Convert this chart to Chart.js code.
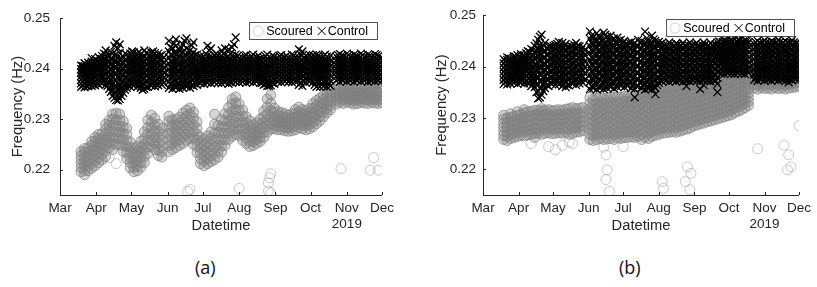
<!DOCTYPE html>
<html lang="en">
<head>
  <meta charset="UTF-8">
  <title>Scoured vs Control frequency</title>
  <script src="https://cdn.jsdelivr.net/npm/chart.js"></script>
  <style>
    body { margin: 0; background: #fff; width: 817px; height: 287px; position: relative; overflow: hidden; }
    .panel { position: absolute; top: 0; }
    .tag { position: absolute; top: 255px; font: 18px "Open Sans", "Noto Sans", sans-serif; color: #111; }
  </style>
</head>
<body>
  <div class="panel" style="left:0"><canvas id="chartA" width="400" height="240"></canvas></div>
  <div class="panel" style="left:410px"><canvas id="chartB" width="407" height="240"></canvas></div>
  <div class="tag" style="left:195px">(a)</div>
  <div class="tag" style="left:619px">(b)</div>

  <script>
    // x = days since 1 Mar 2019
    const monthDays = [0, 31, 61, 92, 122, 153, 184, 214, 245, 275];
    const monthLabels = ['Mar', 'Apr', 'May', 'Jun', 'Jul', 'Aug', 'Sep', 'Oct', ['Nov', '2019'], 'Dec'];
    const yTicks = [0.22, 0.23, 0.24, 0.25];

    // rows: [day, frequencies seen around that day...]
    const scouredA = [
      [18, .2196,.2204,.2212,.2220,.2228,.2236],
      [21, .2190,.2199,.2208,.2217,.2226,.2235,.2242],
      [24, .2198,.2207,.2216,.2225,.2234,.2243],
      [27, .2203,.2212,.2221,.2230,.2239,.2248,.2256],
      [30, .2208,.2218,.2228,.2237,.2246,.2256,.2264],
      [33, .2214,.2224,.2234,.2243,.2252,.2262,.2270],
      [36, .2220,.2231,.2241,.2251,.2261,.2271],
      [39, .2226,.2237,.2248,.2259,.2270,.2281,.2290],
      [42, .2244,.2255,.2266,.2277,.2288,.2298],
      [45, .2240,.2252,.2264,.2276,.2288,.2300,.2310],
      [48, .2250,.2262,.2274,.2286,.2298,.2312],
      [51, .2250,.2262,.2274,.2286,.2298,.2310],
      [54, .2236,.2248,.2260,.2272,.2284,.2296],
      [57, .2222,.2234,.2246,.2258,.2270,.2282],
      [60, .2204,.2214,.2224,.2234,.2244,.2255],
      [63, .2196,.2205,.2214,.2223,.2232,.2242],
      [66, .2198,.2207,.2216,.2226,.2236,.2246],
      [69, .2205,.2215,.2225,.2235,.2245,.2256],
      [72, .2214,.2226,.2238,.2250,.2262,.2275],
      [75, .2232,.2245,.2258,.2271,.2284,.2298],
      [78, .2246,.2258,.2270,.2282,.2294,.2308],
      [81, .2240,.2252,.2264,.2276,.2288,.2302],
      [84, .2228,.2240,.2252,.2264,.2276,.2290],
      [87, .2225,.2236,.2247,.2258,.2270,.2282],
      [93, .2236,.2248,.2260,.2272,.2284,.2296,.2306],
      [96, .2240,.2252,.2263,.2275,.2287,.2299],
      [99, .2244,.2256,.2267,.2278,.2289,.2300],
      [102, .2248,.2259,.2270,.2281,.2292,.2304],
      [105, .2252,.2264,.2276,.2288,.2300,.2312],
      [108, .2258,.2270,.2282,.2294,.2306,.2318],
      [111, .2262,.2274,.2286,.2298,.2310,.2322],
      [114, .2250,.2263,.2276,.2289,.2302,.2314],
      [117, .2234,.2246,.2258,.2270,.2282,.2295],
      [120, .2212,.2222,.2232,.2242,.2253,.2265],
      [123, .2208,.2218,.2228,.2238,.2249,.2260],
      [126, .2212,.2222,.2233,.2244,.2255,.2267],
      [129, .2216,.2227,.2238,.2250,.2262,.2275],
      [132, .2220,.2232,.2245,.2258,.2272,.2290,.2310],
      [135, .2225,.2237,.2249,.2261,.2274,.2288],
      [138, .2235,.2247,.2259,.2272,.2285,.2299],
      [141, .2248,.2260,.2272,.2284,.2297,.2311],
      [144, .2260,.2272,.2284,.2296,.2309,.2323],
      [147, .2266,.2278,.2290,.2302,.2315,.2330,.2340],
      [150, .2270,.2282,.2294,.2306,.2319,.2332,.2344],
      [153, .2268,.2280,.2292,.2304,.2317,.2330],
      [156, .2258,.2270,.2282,.2294,.2306,.2318],
      [159, .2252,.2262,.2272,.2282,.2293,.2305],
      [162, .2246,.2256,.2266,.2276,.2286,.2297],
      [165, .2248,.2256,.2264,.2272,.2280,.2289],
      [168, .2252,.2260,.2268,.2276,.2284,.2293],
      [171, .2256,.2264,.2272,.2281,.2290,.2300],
      [174, .2264,.2274,.2284,.2294,.2305,.2316],
      [177, .2274,.2286,.2298,.2310,.2324,.2340],
      [180, .2280,.2292,.2304,.2317,.2332,.2348],
      [183, .2281,.2289,.2297,.2305,.2313,.2322],
      [186, .2279,.2286,.2293,.2300,.2307,.2315],
      [189, .2279,.2286,.2293,.2299,.2306,.2313],
      [192, .2277,.2284,.2291,.2297,.2304,.2311],
      [195, .2276,.2283,.2289,.2295,.2301,.2308],
      [198, .2277,.2284,.2291,.2297,.2304,.2311],
      [201, .2279,.2287,.2295,.2303,.2311,.2319],
      [204, .2283,.2291,.2299,.2307,.2315,.2324],
      [207, .2281,.2289,.2296,.2303,.2311,.2319],
      [210, .2279,.2287,.2295,.2302,.2309,.2317],
      [213, .2281,.2289,.2297,.2305,.2313,.2321],
      [216, .2285,.2294,.2303,.2312,.2321,.2331],
      [219, .2291,.2300,.2309,.2318,.2327,.2337],
      [222, .2297,.2306,.2315,.2324,.2333,.2342],
      [225, .2305,.2314,.2323,.2331,.2339,.2347],
      [228, .2313,.2321,.2329,.2337,.2345,.2353],
      [231, .2319,.2327,.2335,.2342,.2349,.2357],
      [236, .2330,.2337,.2344,.2351,.2358,.2364],
      [239, .2333,.2340,.2347,.2354,.2361],
      [242, .2331,.2338,.2345,.2352,.2359,.2365],
      [245, .2334,.2341,.2348,.2355,.2362],
      [248, .2332,.2339,.2346,.2353,.2360,.2366],
      [251, .2330,.2337,.2344,.2351,.2358],
      [254, .2331,.2338,.2345,.2352,.2359,.2365],
      [257, .2333,.2340,.2347,.2354,.2361],
      [260, .2332,.2339,.2346,.2353,.2360,.2367],
      [263, .2331,.2338,.2345,.2352,.2359],
      [266, .2333,.2340,.2347,.2354,.2361,.2368],
      [269, .2332,.2339,.2346,.2353,.2360,.2370],
      [272, .2331,.2338,.2345,.2352,.2359,.2372],
      [275, .2333,.2340,.2347,.2354,.2362,.2378]
    ];
    const scouredAOutliers = [
      [42, .2224], [48, .2212],
      [109, .2157], [111, .2161], [153, .2163], [178, .2174], [180, .2192], [179, .2184],
      [178, .2158], [180, .2154], [240, .2202], [265, .2199], [268, .2224], [272, .2199]
    ];

    const controlA = [
      [18, .2364,.2371,.2378,.2385,.2392,.2399,.2406],
      [21, .2363,.2370,.2377,.2384,.2391,.2398,.2405,.2411],
      [24, .2365,.2372,.2380,.2388,.2396,.2404,.2412],
      [27, .2366,.2374,.2382,.2390,.2398,.2406,.2414,.2421],
      [30, .2367,.2375,.2384,.2393,.2402,.2411,.2419],
      [33, .2369,.2378,.2387,.2396,.2405,.2414,.2423],
      [36, .2371,.2380,.2389,.2398,.2407,.2416,.2425],
      [39, .2368,.2378,.2388,.2398,.2408,.2418,.2428,.2436],
      [42, .2360,.2371,.2382,.2393,.2404,.2415,.2426],
      [45, .2346,.2358,.2370,.2382,.2394,.2406,.2418,.2430],
      [48, .2338,.2351,.2364,.2377,.2390,.2403,.2416,.2429,.2452],
      [51, .2340,.2353,.2366,.2379,.2392,.2405,.2418,.2431,.2448],
      [54, .2352,.2364,.2376,.2388,.2400,.2412,.2424],
      [57, .2362,.2373,.2384,.2395,.2406,.2417,.2428],
      [60, .2364,.2375,.2386,.2397,.2408,.2419,.2430],
      [63, .2366,.2377,.2388,.2399,.2410,.2421,.2432],
      [66, .2364,.2375,.2386,.2397,.2408,.2419,.2430],
      [69, .2362,.2373,.2384,.2395,.2406,.2417,.2428],
      [72, .2360,.2371,.2382,.2393,.2404,.2415,.2426,.2436],
      [75, .2364,.2375,.2386,.2397,.2408,.2419,.2430],
      [78, .2366,.2377,.2388,.2399,.2410,.2421,.2432],
      [81, .2365,.2376,.2387,.2398,.2409,.2420,.2431],
      [84, .2367,.2378,.2389,.2400,.2411,.2422,.2430],
      [87, .2368,.2378,.2388,.2398,.2408,.2418,.2427],
      [93, .2362,.2374,.2386,.2398,.2410,.2422,.2434,.2455],
      [96, .2360,.2373,.2386,.2399,.2412,.2425,.2440],
      [99, .2362,.2375,.2388,.2401,.2414,.2428,.2445,.2458],
      [102, .2360,.2372,.2385,.2398,.2411,.2424,.2437],
      [105, .2362,.2374,.2386,.2398,.2410,.2422,.2434,.2448],
      [108, .2364,.2376,.2388,.2400,.2412,.2424,.2440,.2460],
      [111, .2362,.2374,.2386,.2398,.2410,.2422,.2436],
      [114, .2366,.2377,.2388,.2399,.2410,.2421,.2432,.2452],
      [117, .2368,.2378,.2388,.2398,.2408,.2418,.2428],
      [120, .2371,.2380,.2389,.2398,.2407,.2416,.2425],
      [123, .2370,.2379,.2388,.2397,.2406,.2415,.2424],
      [126, .2372,.2381,.2390,.2399,.2408,.2417,.2426,.2445],
      [129, .2371,.2380,.2389,.2398,.2407,.2416,.2425,.2440],
      [132, .2373,.2382,.2391,.2400,.2409,.2418,.2427],
      [135, .2372,.2381,.2390,.2399,.2408,.2417,.2426],
      [138, .2371,.2380,.2389,.2398,.2407,.2416,.2425,.2436],
      [141, .2373,.2382,.2391,.2400,.2409,.2418,.2427,.2440],
      [144, .2370,.2379,.2388,.2397,.2406,.2415,.2424,.2438],
      [147, .2372,.2381,.2390,.2399,.2408,.2417,.2426,.2442],
      [150, .2374,.2383,.2392,.2401,.2410,.2419,.2428,.2462],
      [153, .2373,.2381,.2389,.2397,.2405,.2413,.2421],
      [156, .2374,.2382,.2390,.2398,.2406,.2414,.2422],
      [159, .2372,.2380,.2388,.2396,.2404,.2412,.2420,.2427],
      [162, .2374,.2382,.2390,.2398,.2406,.2414,.2422],
      [165, .2373,.2381,.2389,.2397,.2405,.2413,.2421,.2428],
      [168, .2375,.2383,.2391,.2399,.2407,.2415,.2423],
      [171, .2372,.2380,.2388,.2396,.2404,.2412,.2420],
      [174, .2368,.2377,.2386,.2395,.2404,.2413,.2422],
      [177, .2366,.2375,.2384,.2393,.2402,.2411,.2420,.2428],
      [180, .2367,.2376,.2385,.2394,.2403,.2412,.2421],
      [183, .2370,.2379,.2388,.2397,.2406,.2415,.2424],
      [186, .2374,.2382,.2390,.2398,.2406,.2414,.2422],
      [189, .2373,.2381,.2389,.2397,.2405,.2413,.2421,.2427],
      [192, .2375,.2383,.2391,.2399,.2407,.2415,.2423],
      [195, .2374,.2382,.2390,.2398,.2406,.2414,.2422],
      [198, .2373,.2381,.2389,.2397,.2405,.2413,.2421,.2428],
      [201, .2375,.2383,.2391,.2399,.2407,.2415,.2423],
      [204, .2368,.2377,.2386,.2395,.2404,.2413,.2422,.2438],
      [207, .2366,.2376,.2386,.2396,.2406,.2416,.2426,.2434],
      [210, .2372,.2381,.2390,.2399,.2408,.2417,.2426],
      [213, .2374,.2383,.2392,.2401,.2410,.2419,.2428],
      [216, .2373,.2382,.2391,.2400,.2409,.2418,.2427],
      [219, .2364,.2375,.2384,.2393,.2402,.2411,.2420,.2428],
      [222, .2364,.2374,.2384,.2394,.2404,.2414,.2424],
      [225, .2365,.2375,.2385,.2395,.2405,.2415,.2425],
      [228, .2364,.2374,.2384,.2394,.2404,.2414,.2424],
      [231, .2366,.2376,.2386,.2396,.2406,.2416,.2426],
      [236, .2376,.2384,.2392,.2400,.2408,.2416,.2424],
      [239, .2374,.2382,.2390,.2398,.2406,.2414,.2422,.2429],
      [242, .2377,.2385,.2393,.2401,.2409,.2417,.2425],
      [245, .2375,.2383,.2391,.2399,.2407,.2415,.2423,.2430],
      [248, .2376,.2384,.2392,.2400,.2408,.2416,.2424],
      [251, .2374,.2382,.2390,.2398,.2406,.2414,.2422,.2428],
      [254, .2377,.2385,.2393,.2401,.2409,.2417,.2425],
      [257, .2375,.2383,.2391,.2399,.2407,.2415,.2423,.2430],
      [260, .2376,.2384,.2392,.2400,.2408,.2416,.2424],
      [263, .2374,.2382,.2390,.2398,.2406,.2414,.2422,.2428],
      [266, .2376,.2384,.2392,.2400,.2408,.2416,.2424],
      [269, .2375,.2383,.2391,.2399,.2407,.2415,.2423,.2429],
      [272, .2377,.2385,.2393,.2401,.2409,.2417,.2425],
      [275, .2376,.2384,.2392,.2400,.2408,.2416,.2422]
    ];
    // readings between the rows above
    const controlAMid = [
      [19.5, .2367,.2375,.2383,.2391,.2399,.2405],
      [22.5, .2366,.2374,.2382,.2390,.2398,.2407],
      [25.5, .2368,.2376,.2384,.2392,.2400,.2409],
      [28.5, .2369,.2378,.2387,.2395,.2403,.2412],
      [31.5, .2371,.2380,.2389,.2398,.2407,.2416],
      [34.5, .2373,.2383,.2392,.2401,.2410,.2419],
      [37.5, .2375,.2385,.2394,.2403,.2412,.2421,.2430],
      [40.5, .2366,.2374,.2384,.2394,.2404,.2414,.2424],
      [43.5, .2354,.2366,.2377,.2388,.2399,.2410,.2421,.2433],
      [46.5, .2342,.2354,.2366,.2378,.2390,.2402,.2414,.2426,.2445],
      [49.5, .2337,.2346,.2358,.2371,.2384,.2397,.2410,.2423,.2440],
      [52.5, .2346,.2359,.2372,.2384,.2396,.2408,.2420],
      [55.5, .2358,.2369,.2381,.2393,.2405,.2417,.2430],
      [58.5, .2368,.2379,.2390,.2401,.2412,.2423],
      [61.5, .2370,.2381,.2392,.2403,.2414,.2425,.2434],
      [64.5, .2370,.2381,.2392,.2403,.2414,.2425],
      [67.5, .2368,.2379,.2390,.2401,.2412,.2423,.2433],
      [70.5, .2358,.2366,.2378,.2389,.2400,.2411,.2422],
      [73.5, .2364,.2376,.2387,.2398,.2409,.2420,.2431],
      [76.5, .2370,.2381,.2392,.2403,.2414,.2425],
      [79.5, .2371,.2382,.2393,.2404,.2415,.2426,.2434],
      [82.5, .2370,.2381,.2392,.2403,.2414,.2425],
      [85.5, .2372,.2383,.2394,.2405,.2416,.2426],
      [88.5, .2372,.2382,.2392,.2402,.2412,.2422],
      [94.5, .2368,.2380,.2392,.2404,.2416,.2428,.2442],
      [97.5, .2366,.2379,.2392,.2405,.2418,.2432,.2450],
      [100.5, .2367,.2380,.2393,.2406,.2419,.2431],
      [103.5, .2366,.2378,.2391,.2404,.2417,.2430,.2442],
      [106.5, .2368,.2380,.2392,.2404,.2416,.2428,.2455],
      [109.5, .2369,.2381,.2393,.2405,.2417,.2430],
      [112.5, .2368,.2380,.2392,.2404,.2416,.2428,.2446],
      [115.5, .2372,.2383,.2394,.2405,.2416,.2427],
      [118.5, .2373,.2383,.2393,.2403,.2413,.2423],
      [121.5, .2376,.2385,.2394,.2403,.2412,.2421],
      [124.5, .2375,.2384,.2393,.2402,.2411,.2420,.2430],
      [127.5, .2377,.2386,.2395,.2404,.2413,.2422,.2436],
      [130.5, .2376,.2385,.2394,.2403,.2412,.2421],
      [133.5, .2377,.2386,.2395,.2404,.2413,.2422,.2430],
      [136.5, .2376,.2385,.2394,.2403,.2412,.2421],
      [139.5, .2375,.2384,.2393,.2402,.2411,.2420,.2430],
      [142.5, .2377,.2386,.2395,.2404,.2413,.2422],
      [145.5, .2374,.2383,.2392,.2401,.2410,.2419,.2430],
      [148.5, .2376,.2385,.2394,.2403,.2412,.2421,.2448],
      [151.5, .2377,.2385,.2393,.2401,.2409,.2417,.2425],
      [154.5, .2377,.2385,.2393,.2401,.2409,.2417],
      [157.5, .2378,.2386,.2394,.2402,.2410,.2418,.2426],
      [160.5, .2376,.2384,.2392,.2400,.2408,.2416],
      [163.5, .2378,.2386,.2394,.2402,.2410,.2418,.2425],
      [166.5, .2377,.2385,.2393,.2401,.2409,.2417],
      [169.5, .2379,.2387,.2395,.2403,.2411,.2419,.2426],
      [172.5, .2372,.2376,.2384,.2392,.2400,.2408,.2416],
      [175.5, .2370,.2381,.2390,.2399,.2408,.2417,.2425],
      [178.5, .2366,.2371,.2380,.2389,.2398,.2407,.2416],
      [181.5, .2372,.2381,.2390,.2399,.2408,.2417,.2426],
      [184.5, .2378,.2386,.2394,.2402,.2410,.2418],
      [187.5, .2377,.2385,.2393,.2401,.2409,.2417,.2425],
      [190.5, .2379,.2387,.2395,.2403,.2411,.2419],
      [193.5, .2378,.2386,.2394,.2402,.2410,.2418,.2426],
      [196.5, .2377,.2385,.2393,.2401,.2409,.2417],
      [199.5, .2379,.2387,.2395,.2403,.2411,.2419,.2426],
      [202.5, .2378,.2386,.2394,.2402,.2410,.2418],
      [205.5, .2372,.2381,.2390,.2399,.2408,.2417,.2428],
      [208.5, .2376,.2385,.2394,.2403,.2412,.2421],
      [211.5, .2377,.2386,.2395,.2404,.2413,.2422],
      [214.5, .2378,.2387,.2396,.2405,.2414,.2423],
      [217.5, .2368,.2380,.2389,.2398,.2407,.2416,.2425],
      [220.5, .2378,.2388,.2398,.2408,.2418,.2426],
      [223.5, .2369,.2379,.2389,.2399,.2409,.2419],
      [226.5, .2379,.2389,.2399,.2409,.2419,.2428],
      [229.5, .2370,.2380,.2390,.2400,.2410,.2420],
      [237.5, .2380,.2388,.2396,.2404,.2412,.2420,.2427],
      [240.5, .2378,.2386,.2394,.2402,.2410,.2418,.2426],
      [243.5, .2381,.2389,.2397,.2405,.2413,.2421],
      [246.5, .2379,.2387,.2395,.2403,.2411,.2419,.2427],
      [249.5, .2380,.2388,.2396,.2404,.2412,.2420],
      [252.5, .2378,.2386,.2394,.2402,.2410,.2418,.2426],
      [255.5, .2381,.2389,.2397,.2405,.2413,.2421],
      [258.5, .2379,.2387,.2395,.2403,.2411,.2419,.2427],
      [261.5, .2380,.2388,.2396,.2404,.2412,.2420],
      [264.5, .2378,.2386,.2394,.2402,.2410,.2418,.2426],
      [267.5, .2380,.2388,.2396,.2404,.2412,.2420],
      [270.5, .2379,.2387,.2395,.2403,.2411,.2419,.2427],
      [273.5, .2381,.2389,.2397,.2405,.2413,.2421]
    ];

    const scouredB = [
      [18, .2258,.2266,.2274,.2282,.2290,.2298,.2305],
      [21, .2256,.2264,.2273,.2282,.2291,.2300],
      [24, .2260,.2268,.2276,.2284,.2292,.2301,.2308],
      [27, .2262,.2270,.2278,.2286,.2294,.2303],
      [30, .2264,.2272,.2280,.2288,.2296,.2305,.2312],
      [33, .2266,.2274,.2282,.2290,.2298,.2307],
      [36, .2265,.2274,.2283,.2292,.2301,.2310,.2316],
      [39, .2267,.2276,.2285,.2294,.2303,.2312],
      [42, .2268,.2277,.2286,.2295,.2304,.2313],
      [45, .2262,.2270,.2279,.2288,.2297,.2306,.2315],
      [48, .2270,.2279,.2288,.2297,.2306,.2315],
      [51, .2268,.2277,.2286,.2295,.2304,.2313,.2318],
      [54, .2270,.2279,.2288,.2297,.2306,.2315],
      [57, .2271,.2280,.2289,.2298,.2307,.2316],
      [60, .2269,.2278,.2287,.2296,.2305,.2314],
      [63, .2270,.2279,.2288,.2297,.2306,.2315],
      [66, .2271,.2280,.2289,.2298,.2307,.2316],
      [69, .2270,.2279,.2288,.2297,.2306,.2315],
      [72, .2272,.2281,.2290,.2299,.2308,.2317],
      [75, .2268,.2278,.2288,.2298,.2308,.2318],
      [78, .2270,.2280,.2290,.2300,.2310,.2320],
      [81, .2272,.2281,.2290,.2299,.2308,.2318],
      [84, .2273,.2282,.2291,.2300,.2309,.2319],
      [87, .2275,.2284,.2293,.2302,.2311,.2320],
      [93, .2258,.2268,.2278,.2288,.2298,.2308,.2318,.2328,.2340],
      [96, .2256,.2266,.2276,.2286,.2296,.2306,.2316,.2326,.2336],
      [99, .2258,.2268,.2279,.2288,.2298,.2307,.2318,.2328,.2338],
      [102, .2260,.2270,.2280,.2291,.2300,.2310,.2321,.2330,.2342],
      [105, .2258,.2268,.2277,.2288,.2298,.2309,.2318,.2328,.2338],
      [108, .2259,.2269,.2279,.2289,.2299,.2309,.2319,.2329,.2339],
      [111, .2260,.2271,.2280,.2290,.2301,.2310,.2320,.2331,.2340],
      [114, .2258,.2268,.2278,.2287,.2298,.2308,.2317,.2328,.2340],
      [117, .2261,.2271,.2281,.2291,.2301,.2311,.2321,.2331,.2341],
      [120, .2260,.2270,.2280,.2290,.2300,.2310,.2320,.2330,.2340],
      [123, .2262,.2272,.2282,.2292,.2302,.2312,.2322,.2332,.2342],
      [126, .2262,.2273,.2282,.2291,.2302,.2313,.2322,.2332,.2342],
      [129, .2263,.2273,.2283,.2293,.2303,.2313,.2323,.2333,.2343],
      [132, .2262,.2272,.2281,.2292,.2302,.2311,.2322,.2332,.2342],
      [135, .2264,.2274,.2284,.2294,.2304,.2314,.2324,.2334,.2344],
      [138, .2258,.2268,.2278,.2288,.2298,.2308,.2318,.2328,.2338,.2347],
      [141, .2262,.2272,.2282,.2292,.2302,.2312,.2322,.2332,.2342,.2350],
      [144, .2260,.2270,.2281,.2290,.2300,.2311,.2320,.2330,.2340,.2350],
      [147, .2264,.2274,.2284,.2294,.2304,.2314,.2324,.2334,.2344,.2352],
      [150, .2266,.2276,.2286,.2296,.2306,.2316,.2326,.2336,.2346,.2355],
      [153, .2268,.2278,.2288,.2298,.2308,.2318,.2328,.2338,.2348,.2357],
      [156, .2270,.2280,.2290,.2300,.2311,.2320,.2330,.2340,.2350,.2359],
      [159, .2271,.2281,.2291,.2301,.2311,.2321,.2331,.2341,.2351,.2360],
      [162, .2272,.2282,.2292,.2302,.2312,.2322,.2332,.2342,.2352,.2361],
      [165, .2273,.2283,.2293,.2303,.2313,.2323,.2333,.2343,.2353,.2362],
      [168, .2272,.2282,.2292,.2302,.2312,.2322,.2332,.2342,.2352,.2362],
      [171, .2274,.2284,.2294,.2304,.2314,.2324,.2334,.2344,.2354,.2364],
      [174, .2276,.2286,.2296,.2306,.2316,.2326,.2336,.2346,.2356,.2365],
      [177, .2278,.2288,.2298,.2308,.2318,.2328,.2338,.2348,.2358,.2366],
      [180, .2280,.2290,.2300,.2310,.2320,.2330,.2340,.2350,.2360,.2368],
      [183, .2284,.2293,.2302,.2311,.2320,.2329,.2338,.2347,.2356,.2365,.2372],
      [186, .2286,.2295,.2304,.2313,.2322,.2331,.2340,.2349,.2358,.2367,.2374],
      [189, .2288,.2297,.2306,.2315,.2324,.2333,.2342,.2351,.2360,.2369,.2376],
      [192, .2290,.2299,.2308,.2317,.2326,.2335,.2344,.2353,.2362,.2371,.2377],
      [195, .2292,.2301,.2310,.2319,.2328,.2337,.2346,.2355,.2364,.2373,.2379],
      [198, .2294,.2303,.2312,.2321,.2330,.2339,.2348,.2357,.2366,.2375,.2381],
      [201, .2296,.2305,.2314,.2323,.2332,.2341,.2350,.2359,.2368,.2377,.2383],
      [204, .2298,.2307,.2316,.2325,.2334,.2343,.2352,.2361,.2370,.2379,.2385],
      [207, .2300,.2309,.2318,.2327,.2336,.2345,.2354,.2363,.2372,.2381,.2387],
      [210, .2302,.2311,.2320,.2329,.2338,.2347,.2356,.2365,.2374,.2383,.2389],
      [213, .2304,.2313,.2322,.2331,.2340,.2349,.2358,.2367,.2376,.2385,.2391],
      [216, .2306,.2315,.2324,.2333,.2342,.2351,.2360,.2369,.2378,.2387,.2393],
      [219, .2310,.2319,.2328,.2337,.2346,.2355,.2364,.2373,.2382,.2390],
      [222, .2313,.2322,.2331,.2340,.2349,.2358,.2367,.2376,.2385,.2393],
      [225, .2316,.2325,.2334,.2343,.2352,.2361,.2370,.2379,.2388,.2396],
      [228, .2320,.2328,.2336,.2344,.2352,.2360,.2368,.2376,.2384,.2392,.2398],
      [231, .2324,.2332,.2340,.2348,.2356,.2364,.2372,.2380,.2388,.2396],
      [236, .2358,.2365,.2372,.2379,.2386,.2393],
      [239, .2356,.2364,.2372,.2380,.2388,.2395],
      [242, .2359,.2366,.2373,.2380,.2387,.2394],
      [245, .2357,.2365,.2373,.2381,.2389,.2396],
      [248, .2358,.2366,.2374,.2382,.2390,.2397],
      [251, .2356,.2364,.2372,.2380,.2388,.2395],
      [254, .2359,.2367,.2375,.2383,.2391,.2398],
      [257, .2357,.2365,.2373,.2381,.2389,.2396],
      [260, .2358,.2366,.2374,.2382,.2390,.2398],
      [263, .2356,.2364,.2372,.2380,.2388,.2396],
      [266, .2358,.2366,.2374,.2382,.2390,.2399],
      [269, .2359,.2367,.2375,.2383,.2391,.2400],
      [272, .2360,.2368,.2376,.2384,.2392,.2402],
      [275, .2362,.2370,.2378,.2386,.2394,.2405]
    ];
    const scouredBOutliers = [
      [42, .2250], [57, .2244], [63, .2238], [69, .2247], [75, .2253], [78, .2250],
      [105, .2243], [107, .2228], [108, .2199], [107, .2180], [110, .2157], [122, .2244],
      [156, .2176], [157, .2163], [178, .2205], [181, .2192], [176, .2176], [180, .2160],
      [239, .2240], [262, .2247], [266, .2228], [265, .2199], [268, .2205], [275, .2285]
    ];

    const controlB = [
      [18, .2366,.2374,.2382,.2390,.2398,.2406,.2414],
      [21, .2365,.2373,.2381,.2389,.2397,.2405,.2413,.2418],
      [24, .2367,.2375,.2383,.2391,.2399,.2407,.2415],
      [27, .2368,.2376,.2384,.2392,.2400,.2408,.2416,.2420],
      [30, .2366,.2374,.2382,.2390,.2398,.2406,.2414,.2422],
      [33, .2369,.2377,.2385,.2393,.2401,.2409,.2417,.2424],
      [36, .2367,.2376,.2385,.2394,.2403,.2412,.2421],
      [39, .2368,.2377,.2386,.2395,.2404,.2413,.2422,.2430],
      [42, .2362,.2372,.2382,.2392,.2402,.2412,.2422,.2434],
      [45, .2360,.2371,.2382,.2393,.2404,.2415,.2426,.2440],
      [48, .2338,.2352,.2366,.2380,.2394,.2408,.2422,.2436,.2452],
      [51, .2345,.2358,.2371,.2384,.2397,.2410,.2423,.2436,.2462],
      [54, .2358,.2370,.2382,.2394,.2406,.2418,.2430,.2446],
      [57, .2362,.2374,.2386,.2398,.2410,.2422,.2434],
      [60, .2366,.2378,.2390,.2402,.2414,.2426,.2438],
      [63, .2364,.2376,.2388,.2400,.2412,.2424,.2436,.2442],
      [66, .2365,.2377,.2389,.2401,.2413,.2425,.2437,.2448],
      [69, .2362,.2374,.2386,.2398,.2410,.2422,.2434,.2446],
      [72, .2360,.2372,.2384,.2396,.2408,.2420,.2432,.2444],
      [75, .2363,.2375,.2387,.2399,.2411,.2423,.2435],
      [78, .2366,.2378,.2390,.2402,.2414,.2426,.2438],
      [81, .2364,.2376,.2388,.2400,.2412,.2424,.2436,.2446],
      [84, .2367,.2379,.2391,.2403,.2415,.2427,.2439],
      [87, .2368,.2380,.2392,.2404,.2416,.2428,.2438],
      [93, .2356,.2370,.2384,.2398,.2412,.2426,.2440,.2454,.2468],
      [96, .2358,.2372,.2386,.2400,.2414,.2428,.2442,.2456],
      [99, .2355,.2369,.2383,.2397,.2411,.2425,.2439,.2453,.2465],
      [102, .2358,.2372,.2386,.2400,.2414,.2428,.2442,.2456],
      [105, .2356,.2370,.2384,.2398,.2412,.2426,.2440,.2454,.2466],
      [108, .2358,.2372,.2386,.2400,.2414,.2428,.2442,.2458],
      [111, .2360,.2374,.2388,.2402,.2416,.2430,.2444,.2460],
      [114, .2357,.2371,.2385,.2399,.2413,.2427,.2441,.2455],
      [117, .2360,.2374,.2388,.2402,.2416,.2430,.2444,.2456],
      [120, .2362,.2375,.2388,.2401,.2414,.2427,.2440,.2452],
      [123, .2360,.2373,.2386,.2399,.2412,.2425,.2438,.2450],
      [126, .2362,.2375,.2388,.2401,.2414,.2427,.2440],
      [129, .2358,.2371,.2384,.2397,.2410,.2423,.2436,.2448],
      [132, .2340,.2356,.2369,.2382,.2395,.2408,.2421,.2434,.2446],
      [135, .2362,.2375,.2388,.2401,.2414,.2427,.2440,.2452],
      [138, .2358,.2371,.2384,.2397,.2410,.2423,.2436,.2450],
      [141, .2355,.2368,.2381,.2394,.2407,.2420,.2433,.2446,.2468],
      [144, .2357,.2370,.2383,.2396,.2409,.2422,.2435,.2448],
      [147, .2356,.2369,.2382,.2395,.2408,.2421,.2434,.2447,.2460],
      [150, .2346,.2358,.2371,.2384,.2397,.2410,.2423,.2436,.2450],
      [153, .2368,.2380,.2392,.2404,.2416,.2428,.2440,.2448],
      [156, .2371,.2382,.2393,.2404,.2415,.2426,.2437,.2446],
      [159, .2372,.2383,.2394,.2405,.2416,.2427,.2438],
      [162, .2370,.2381,.2392,.2403,.2414,.2425,.2436,.2447],
      [165, .2373,.2384,.2395,.2406,.2417,.2428,.2439],
      [168, .2371,.2382,.2393,.2404,.2415,.2426,.2437,.2445],
      [171, .2372,.2383,.2394,.2405,.2416,.2427,.2438],
      [174, .2370,.2381,.2392,.2403,.2414,.2425,.2436,.2446],
      [177, .2362,.2372,.2383,.2394,.2405,.2416,.2427,.2438],
      [180, .2371,.2382,.2393,.2404,.2415,.2426,.2437,.2447],
      [183, .2373,.2384,.2395,.2406,.2417,.2428,.2439],
      [186, .2372,.2383,.2394,.2405,.2416,.2427,.2438,.2446],
      [189, .2356,.2370,.2381,.2392,.2403,.2414,.2425,.2436],
      [192, .2364,.2373,.2384,.2395,.2406,.2417,.2428,.2439,.2447],
      [195, .2372,.2383,.2394,.2405,.2416,.2427,.2438],
      [198, .2371,.2382,.2393,.2404,.2415,.2426,.2437,.2446],
      [201, .2373,.2384,.2395,.2406,.2417,.2428,.2439],
      [204, .2350,.2366,.2378,.2390,.2402,.2414,.2426,.2438,.2447],
      [207, .2386,.2396,.2406,.2416,.2426,.2436,.2446],
      [210, .2385,.2395,.2405,.2415,.2425,.2435,.2445,.2450],
      [213, .2387,.2397,.2407,.2417,.2427,.2437,.2447],
      [216, .2386,.2396,.2406,.2416,.2426,.2436,.2446,.2451],
      [219, .2385,.2395,.2405,.2415,.2425,.2435,.2445],
      [222, .2387,.2397,.2407,.2417,.2427,.2437,.2447,.2452],
      [225, .2386,.2396,.2406,.2416,.2426,.2436,.2446],
      [228, .2385,.2395,.2405,.2415,.2425,.2435,.2445,.2450],
      [231, .2388,.2398,.2408,.2418,.2428,.2438,.2448],
      [236, .2374,.2384,.2394,.2404,.2414,.2424,.2434,.2444],
      [239, .2372,.2382,.2392,.2402,.2412,.2422,.2432,.2442,.2450],
      [242, .2375,.2385,.2395,.2405,.2415,.2425,.2435,.2445],
      [245, .2373,.2383,.2393,.2403,.2413,.2423,.2433,.2443,.2451],
      [248, .2374,.2384,.2394,.2404,.2414,.2424,.2434,.2444],
      [251, .2372,.2382,.2392,.2402,.2412,.2422,.2432,.2442,.2449],
      [254, .2375,.2385,.2395,.2405,.2415,.2425,.2435,.2445],
      [257, .2373,.2383,.2393,.2403,.2413,.2423,.2433,.2443,.2452],
      [260, .2374,.2384,.2394,.2404,.2414,.2424,.2434,.2444],
      [263, .2372,.2382,.2392,.2402,.2412,.2422,.2432,.2442,.2450],
      [266, .2369,.2376,.2386,.2396,.2406,.2416,.2426,.2436,.2446],
      [269, .2373,.2383,.2393,.2403,.2413,.2423,.2433,.2443,.2451],
      [272, .2375,.2385,.2395,.2405,.2415,.2425,.2435,.2445],
      [275, .2374,.2384,.2394,.2404,.2414,.2424,.2434,.2442]
    ];
    const controlBMid = [
      [19.5, .2370,.2378,.2386,.2394,.2402,.2410],
      [22.5, .2369,.2377,.2385,.2393,.2401,.2409,.2416],
      [25.5, .2371,.2379,.2387,.2395,.2403,.2411],
      [28.5, .2372,.2380,.2388,.2396,.2404,.2412,.2419],
      [31.5, .2370,.2378,.2386,.2394,.2402,.2410,.2418],
      [34.5, .2373,.2381,.2389,.2397,.2405,.2413,.2421],
      [37.5, .2372,.2381,.2390,.2399,.2408,.2417,.2426],
      [40.5, .2367,.2377,.2387,.2397,.2407,.2417,.2428],
      [43.5, .2366,.2377,.2388,.2399,.2410,.2421,.2432],
      [46.5, .2350,.2365,.2378,.2391,.2404,.2417,.2430,.2445],
      [49.5, .2340,.2358,.2372,.2386,.2400,.2414,.2428,.2442,.2458],
      [52.5, .2352,.2364,.2377,.2390,.2403,.2416,.2429,.2441],
      [55.5, .2364,.2376,.2388,.2400,.2412,.2424,.2436],
      [58.5, .2368,.2380,.2392,.2404,.2416,.2428,.2440],
      [61.5, .2370,.2382,.2394,.2406,.2418,.2430,.2440],
      [64.5, .2370,.2382,.2394,.2406,.2418,.2430,.2444],
      [67.5, .2368,.2380,.2392,.2404,.2416,.2428,.2440],
      [70.5, .2366,.2378,.2390,.2402,.2414,.2426,.2438],
      [73.5, .2364,.2378,.2390,.2402,.2414,.2426,.2438],
      [76.5, .2369,.2381,.2393,.2405,.2417,.2429,.2440],
      [79.5, .2370,.2382,.2394,.2406,.2418,.2430,.2442],
      [82.5, .2370,.2382,.2394,.2406,.2418,.2430,.2440],
      [85.5, .2372,.2384,.2396,.2408,.2420,.2432],
      [88.5, .2374,.2386,.2398,.2410,.2422,.2432],
      [94.5, .2362,.2377,.2391,.2405,.2419,.2433,.2447,.2460],
      [97.5, .2364,.2379,.2393,.2407,.2421,.2435,.2449],
      [100.5, .2361,.2376,.2390,.2404,.2418,.2432,.2446,.2460],
      [103.5, .2364,.2379,.2393,.2407,.2421,.2435,.2449],
      [106.5, .2362,.2377,.2391,.2405,.2419,.2433,.2447,.2462],
      [109.5, .2364,.2379,.2393,.2407,.2421,.2435,.2450],
      [112.5, .2366,.2381,.2395,.2409,.2423,.2437,.2452],
      [115.5, .2363,.2378,.2392,.2406,.2420,.2434,.2448],
      [118.5, .2366,.2381,.2395,.2409,.2423,.2437,.2450],
      [121.5, .2368,.2381,.2394,.2407,.2420,.2433,.2446],
      [124.5, .2366,.2379,.2392,.2405,.2418,.2431,.2444],
      [127.5, .2368,.2381,.2394,.2407,.2420,.2433,.2446],
      [130.5, .2364,.2377,.2390,.2403,.2416,.2429,.2442],
      [133.5, .2362,.2375,.2388,.2401,.2414,.2427,.2440],
      [136.5, .2368,.2381,.2394,.2407,.2420,.2433,.2446],
      [139.5, .2364,.2377,.2390,.2403,.2416,.2429,.2443],
      [142.5, .2361,.2374,.2387,.2400,.2413,.2426,.2439,.2455],
      [145.5, .2363,.2376,.2389,.2402,.2415,.2428,.2441],
      [148.5, .2362,.2375,.2388,.2401,.2414,.2427,.2440,.2453],
      [151.5, .2364,.2377,.2390,.2403,.2416,.2429,.2442],
      [154.5, .2374,.2386,.2398,.2410,.2422,.2434,.2444],
      [157.5, .2376,.2387,.2398,.2409,.2420,.2431,.2442],
      [160.5, .2375,.2386,.2397,.2408,.2419,.2430,.2441],
      [163.5, .2377,.2388,.2399,.2410,.2421,.2432,.2443],
      [166.5, .2376,.2387,.2398,.2409,.2420,.2431,.2441],
      [169.5, .2377,.2388,.2399,.2410,.2421,.2432,.2443],
      [172.5, .2375,.2386,.2397,.2408,.2419,.2430,.2441],
      [175.5, .2374,.2385,.2396,.2407,.2418,.2429,.2440],
      [178.5, .2375,.2386,.2397,.2408,.2419,.2430,.2442],
      [181.5, .2376,.2387,.2398,.2409,.2420,.2431,.2441],
      [184.5, .2377,.2388,.2399,.2410,.2421,.2432,.2443],
      [187.5, .2375,.2386,.2397,.2408,.2419,.2430,.2441],
      [190.5, .2376,.2387,.2398,.2409,.2420,.2431,.2442],
      [193.5, .2376,.2387,.2398,.2409,.2420,.2431,.2443],
      [196.5, .2375,.2386,.2397,.2408,.2419,.2430,.2441],
      [199.5, .2377,.2388,.2399,.2410,.2421,.2432,.2442],
      [202.5, .2372,.2384,.2396,.2408,.2420,.2432,.2443],
      [205.5, .2390,.2400,.2410,.2420,.2430,.2440,.2449],
      [208.5, .2390,.2400,.2410,.2420,.2430,.2440,.2448],
      [211.5, .2391,.2401,.2411,.2421,.2431,.2441,.2450],
      [214.5, .2390,.2400,.2410,.2420,.2430,.2440,.2449],
      [217.5, .2391,.2401,.2411,.2421,.2431,.2441,.2450],
      [220.5, .2390,.2400,.2410,.2420,.2430,.2440,.2449],
      [223.5, .2392,.2402,.2412,.2422,.2432,.2442,.2451],
      [226.5, .2390,.2400,.2410,.2420,.2430,.2440,.2449],
      [229.5, .2392,.2402,.2412,.2422,.2432,.2442,.2450],
      [237.5, .2378,.2388,.2398,.2408,.2418,.2428,.2438,.2447],
      [240.5, .2377,.2387,.2397,.2407,.2417,.2427,.2437,.2446],
      [243.5, .2379,.2389,.2399,.2409,.2419,.2429,.2439,.2448],
      [246.5, .2378,.2388,.2398,.2408,.2418,.2428,.2438,.2447],
      [249.5, .2376,.2386,.2396,.2406,.2416,.2426,.2436,.2446],
      [252.5, .2379,.2389,.2399,.2409,.2419,.2429,.2439,.2448],
      [255.5, .2377,.2387,.2397,.2407,.2417,.2427,.2437,.2447],
      [258.5, .2378,.2388,.2398,.2408,.2418,.2428,.2438,.2448],
      [261.5, .2376,.2386,.2396,.2406,.2416,.2426,.2436,.2446],
      [264.5, .2378,.2388,.2398,.2408,.2418,.2428,.2438,.2447],
      [267.5, .2377,.2387,.2397,.2407,.2417,.2427,.2437,.2448],
      [270.5, .2379,.2389,.2399,.2409,.2419,.2429,.2439,.2447],
      [273.5, .2378,.2388,.2398,.2408,.2418,.2428,.2438,.2446]
    ];

    const axisColor = '#262626';
    const fontFamily = '"Liberation Sans", Arial, sans-serif';

    function toPoints(rows) {
      const pts = [];
      rows.forEach(r => { for (let i = 1; i < r.length; i++) pts.push({ x: r[0], y: r[i] }); });
      return pts;
    }

    // MATLAB-ish inward ticks + boxed legend inside the axes
    const matlabLook = {
      id: 'matlabLook',
      afterDraw(chart) {
        const { ctx, chartArea: a, scales: { x, y } } = chart;
        ctx.save();
        ctx.strokeStyle = axisColor;
        ctx.lineWidth = 1;
        ctx.beginPath();
        x.ticks.forEach(t => {
          const px = Math.round(x.getPixelForValue(t.value)) + 0.5;
          ctx.moveTo(px, a.bottom); ctx.lineTo(px, a.bottom - 3);
        });
        y.ticks.forEach(t => {
          const py = Math.round(y.getPixelForValue(t.value)) + 0.5;
          ctx.moveTo(a.left, py); ctx.lineTo(a.left + 3, py);
        });
        ctx.stroke();

        // legend (first dataset = Scoured, last = Control)
        const ds = chart.data.datasets;
        const l1 = ds[0].label, l2 = ds[ds.length - 1].label;
        ctx.font = '12.5px ' + fontFamily;
        const w1 = ctx.measureText(l1).width;
        const w2 = ctx.measureText(l2).width;
        const boxW = 18 + w1 + 19 + w2 + 4;
        const h = 17, right = a.right - 5, top = a.top + 4, left = right - boxW;
        ctx.fillStyle = '#fff';
        ctx.fillRect(left, top, boxW, h);
        ctx.lineWidth = 0.8;
        ctx.strokeStyle = axisColor;
        ctx.strokeRect(left + 0.5, top + 0.5, boxW, h);
        const cy = top + h / 2 + 0.5;
        ctx.strokeStyle = 'rgba(128,128,128,0.6)';
        ctx.lineWidth = 0.6;
        ctx.beginPath(); ctx.arc(left + 9, cy, 5, 0, Math.PI * 2); ctx.stroke();
        ctx.fillStyle = '#000';
        ctx.textBaseline = 'middle';
        ctx.fillText(l1, left + 17, cy);
        const xc = left + 17 + w1 + 9;
        ctx.strokeStyle = '#000'; ctx.lineWidth = 1;
        ctx.beginPath();
        ctx.moveTo(xc - 4, cy - 4); ctx.lineTo(xc + 4, cy + 4);
        ctx.moveTo(xc - 4, cy + 4); ctx.lineTo(xc + 4, cy - 4);
        ctx.stroke();
        ctx.fillText(l2, xc + 6, cy);
        ctx.restore();
      }
    };

    function makeChart(id, scoured, outliers, control, yWidth, rightPad, tickPad, titlePad) {
      new Chart(document.getElementById(id), {
        type: 'scatter',
        data: {
          datasets: [{
            label: 'Scoured',
            data: toPoints(scoured),
            pointStyle: 'circle',
            pointRadius: 5,
            borderWidth: 0.8,
            borderColor: 'rgba(125,125,125,0.85)',
            backgroundColor: 'rgba(132,132,132,0.34)',
            order: 3,
            clip: 0
          }, {
            label: 'Scoured',
            data: outliers.map(p => ({ x: p[0], y: p[1] })),
            pointStyle: 'circle',
            pointRadius: 5,
            borderWidth: 0.7,
            borderColor: 'rgba(128,128,128,0.6)',
            backgroundColor: 'rgba(0,0,0,0)',
            order: 2,
            clip: 0
          }, {
            label: 'Control',
            data: toPoints(control),
            pointStyle: 'crossRot',
            pointRadius: 5.5,
            borderWidth: 1.3,
            borderColor: '#000',
            backgroundColor: '#000',
            order: 1,
            clip: 0
          }]
        },
        options: {
          responsive: false,
          animation: false,
          events: [],
          layout: { autoPadding: false, padding: { left: 0, right: rightPad, top: 14, bottom: 0 } },
          plugins: { legend: { display: false }, tooltip: { enabled: false } },
          scales: {
            x: {
              type: 'linear',
              min: 0, max: 275,
              afterBuildTicks: s => { s.ticks = monthDays.map(v => ({ value: v })); },
              afterFit: s => { s.height = 45; },
              grid: { display: false, drawTicks: false },
              border: { display: true, color: axisColor, width: 1 },
              ticks: {
                padding: 6,
                color: axisColor,
                font: { family: fontFamily, size: 13.5, lineHeight: 1.15 },
                maxRotation: 0,
                autoSkip: false,
                callback: (v, i) => monthLabels[i]
              },
              title: {
                display: true, text: 'Datetime', color: axisColor,
                font: { family: fontFamily, size: 14.7 }, padding: { top: 0, bottom: 5 }
              }
            },
            y: {
              min: 0.215, max: 0.25,
              afterBuildTicks: s => { s.ticks = yTicks.map(v => ({ value: v })); },
              afterFit: s => { s.width = yWidth; },
              grid: { display: false, drawTicks: false },
              border: { display: true, color: axisColor, width: 1 },
              ticks: {
                padding: tickPad,
                color: axisColor,
                font: { family: fontFamily, size: 13.5 },
                callback: v => v.toFixed(2)
              },
              title: {
                display: true, text: 'Frequency (Hz)', color: axisColor,
                font: { family: fontFamily, size: 14.7 }, padding: { top: titlePad, bottom: 0 }
              }
            }
          }
        },
        plugins: [matlabLook]
      });
    }

    makeChart('chartA', scouredA, scouredAOutliers, controlA.concat(controlAMid), 60, 17, 10, 9.5);
    makeChart('chartB', scouredB, scouredBOutliers, controlB.concat(controlBMid), 73, 10, 7, 23);
  </script>
</body>
</html>
